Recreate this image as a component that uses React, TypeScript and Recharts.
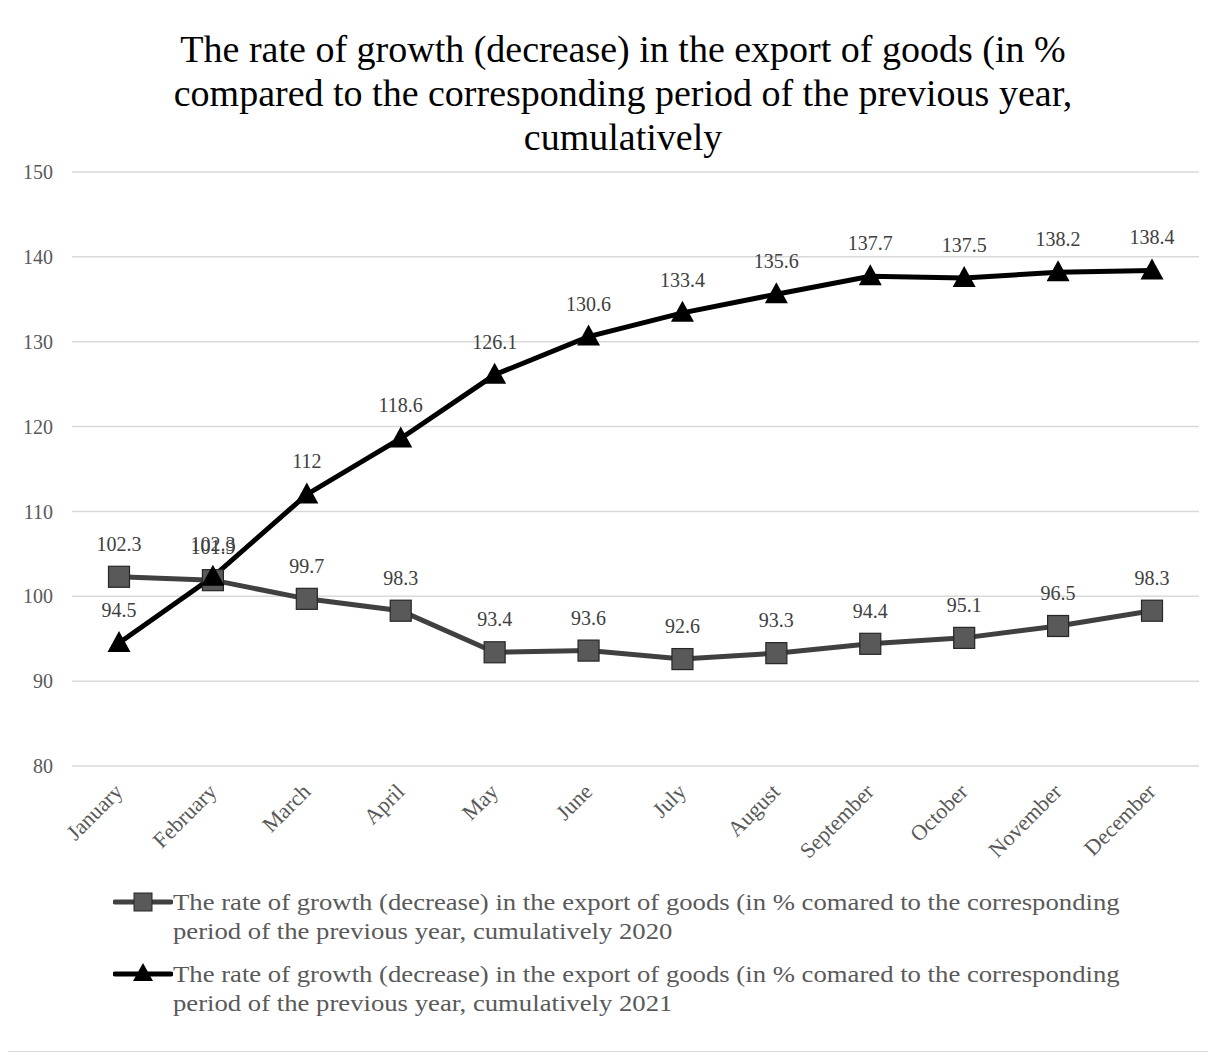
import React from "react";
import { LineChart, Line, XAxis, YAxis, CartesianGrid, LabelList } from "recharts";

const months = ["January", "February", "March", "April", "May", "June", "July", "August", "September", "October", "November", "December"];
const values2020 = [102.3, 101.9, 99.7, 98.3, 93.4, 93.6, 92.6, 93.3, 94.4, 95.1, 96.5, 98.3];
const values2021 = [94.5, 102.3, 112, 118.6, 126.1, 130.6, 133.4, 135.6, 137.7, 137.5, 138.2, 138.4];
const yTicks = [80, 90, 100, 110, 120, 130, 140, 150];
const titleLines = [
  "The rate of growth (decrease) in the export of goods (in %",
  "compared to the corresponding period of the previous year,",
  "cumulatively",
];
const legendNames = [
  "The rate of growth (decrease) in the export of goods (in % comared to the corresponding period of the previous year, cumulatively 2020",
  "The rate of growth (decrease) in the export of goods (in % comared to the corresponding period of the previous year, cumulatively 2021",
];

const data = months.map((m, i) => ({ month: m, y2020: values2020[i], y2021: values2021[i] }));

const FONT = "'Liberation Serif', 'Times New Roman', serif";
const C2020 = "#404040";
const C2021 = "#000000";

const SquareDot = (props: any) => {
  const { cx, cy, index } = props;
  if (cx == null || cy == null) return null;
  return <rect key={`s${index}`} x={cx - 10.5} y={cy - 10.5} width={21} height={21} fill="#595959" stroke="#262626" strokeWidth={1.2} />;
};

const TriDot = (props: any) => {
  const { cx, cy, index } = props;
  if (cx == null || cy == null) return null;
  return <path key={`t${index}`} d={`M${cx},${cy - 12} L${cx + 11.5},${cy + 9} L${cx - 11.5},${cy + 9} Z`} fill="#000" />;
};

const renderLabel = (props: any) => {
  const { x, y, value, index } = props;
  return (
    <text key={`l${index}`} x={x} y={y - 33} textAnchor="middle" dominantBaseline="central" fontFamily={FONT} fontSize={20} fill="#404040">
      {value}
    </text>
  );
};

const XTick = (props: any) => {
  const { x, y, payload } = props;
  const ax = x + 5;
  const ay = y + 27;
  return (
    <text x={ax} y={ay} transform={`rotate(-45, ${ax}, ${ay})`} textAnchor="end" fontFamily={FONT} fontSize={22} fill="#595959">
      {payload.value}
    </text>
  );
};

const LegendIcon = ({ kind }: { kind: string }) => (
  <svg width={60} height={24} style={{ position: "absolute", left: 0, top: 2 }}>
    <line x1={2} y1={12} x2={58} y2={12} stroke={kind === "sq" ? C2020 : C2021} strokeWidth={5} strokeLinecap="round" />
    {kind === "sq" ? (
      <rect x={21} y={3} width={18} height={18} fill="#595959" stroke="#262626" strokeWidth={1} />
    ) : (
      <path d="M30,1 L40,19 L20,19 Z" fill="#000" />
    )}
  </svg>
);

export default function App() {
  return (
    <div
      style={{
        position: "relative",
        width: 1203,
        height: 1046,
        border: "1px solid #d9d9d9",
        marginLeft: -1,
        marginTop: -2,
        background: "#fff",
        boxSizing: "border-box",
        fontFamily: FONT,
      }}
    >
      <div style={{ position: "absolute", left: 0, top: 20, width: 1230, textAlign: "center", color: "#000" }}>
        {titleLines.map((t, i) => (
          <div key={i} style={{ fontSize: 38, lineHeight: "44px", whiteSpace: "nowrap" }}>
            {t}
          </div>
        ))}
      </div>
      <div style={{ position: "absolute", left: 0, top: 0 }}>
        <LineChart width={1201} height={860} data={data} margin={{ top: 165, right: 10, bottom: 0, left: 0 }}>
          <CartesianGrid vertical={false} stroke="#d9d9d9" strokeWidth={1.5} />
          <XAxis
            dataKey="month"
            axisLine={false}
            tickLine={false}
            tickSize={0}
            tickMargin={0}
            height={101}
            interval={0}
            padding={{ left: 47, right: 47 }}
            tick={<XTick />}
          />
          <YAxis
            domain={[80, 150]}
            ticks={yTicks}
            width={64}
            axisLine={false}
            tickLine={false}
            tickMargin={13}
            tick={{ fontFamily: FONT, fontSize: 20, fill: "#595959" }}
          />
          <Line type="linear" dataKey="y2020" stroke={C2020} strokeWidth={5} dot={<SquareDot />} activeDot={false} isAnimationActive={false}>
            <LabelList dataKey="y2020" content={renderLabel} />
          </Line>
          <Line type="linear" dataKey="y2021" stroke={C2021} strokeWidth={5} dot={<TriDot />} activeDot={false} isAnimationActive={false}>
            <LabelList dataKey="y2021" content={renderLabel} />
          </Line>
        </LineChart>
      </div>
      {legendNames.map((n, i) => (
        <div key={i} style={{ position: "absolute", left: 105, top: 881 + i * 72, width: 1060 }}>
          <LegendIcon kind={i === 0 ? "sq" : "tri"} />
          <div
            style={{
              position: "absolute",
              left: 60,
              top: 0,
              width: 860,
              fontSize: 23.5,
              lineHeight: "29px",
              color: "#595959",
              transform: "scaleX(1.136)",
              transformOrigin: "0 0",
            }}
          >
            {n}
          </div>
        </div>
      ))}
    </div>
  );
}
